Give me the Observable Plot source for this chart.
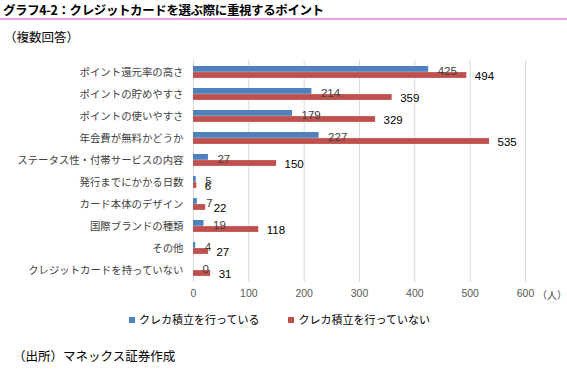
<!DOCTYPE html>
<html>
<head>
<meta charset="utf-8">
<script src="https://cdn.jsdelivr.net/npm/d3@7"></script>
<script src="https://cdn.jsdelivr.net/npm/@observablehq/plot@0.6"></script>
<style>
  html, body { margin: 0; padding: 0; background: #fff; }
  #wrap { position: relative; width: 567px; height: 383px; overflow: hidden; font-family: "Noto Sans CJK JP", "Noto Sans", sans-serif; color: #000; }
  #wrap .abs { position: absolute; white-space: nowrap; line-height: 1; }
  #chart { position: absolute; left: 0; top: 0; }
  .sw { display: inline-block; width: 6px; height: 6px; margin-right: 4px; vertical-align: middle; position: relative; top: -1px; }
</style>
</head>
<body>
<div id="wrap">
  <div class="abs" id="title" style="left:3px;top:4px;font-size:12.5px;font-weight:bold;letter-spacing:-0.4px;">グラフ4-2：クレジットカードを選ぶ際に重視するポイント</div>
  <div class="abs" style="left:0;top:18px;width:567px;height:2px;background:#ef9fe6;"></div>
  <div class="abs" style="left:4px;top:31px;font-size:12.5px;">（複数回答）</div>
  <div id="chart"></div>
  <div class="abs" style="left:537px;top:290px;font-size:10px;color:#404040;">（人）</div>
  <div class="abs" id="legend" style="left:129px;top:314px;font-size:11px;color:#000;"></div>
  <div class="abs" style="left:13px;top:350px;font-size:12.5px;">（出所）マネックス証券作成</div>
</div>
<script>
const categories = [
  "ポイント還元率の高さ",
  "ポイントの貯めやすさ",
  "ポイントの使いやすさ",
  "年会費が無料かどうか",
  "ステータス性・付帯サービスの内容",
  "発行までにかかる日数",
  "カード本体のデザイン",
  "国際ブランドの種類",
  "その他",
  "クレジットカードを持っていない"
];
const seriesNames = ["クレカ積立を行っている", "クレカ積立を行っていない"];
const withSaving = [425, 214, 179, 227, 27, 5, 7, 19, 4, 0];
const withoutSaving = [494, 359, 329, 535, 150, 6, 22, 118, 27, 31];
const xTicks = [0, 100, 200, 300, 400, 500, 600];
const colors = ["#4F81BD", "#C0504D"];

const blueRows = categories.map((c, i) => ({category: c, value: withSaving[i], series: seriesNames[0]}));
const redRows = categories.map((c, i) => ({category: c, value: withoutSaving[i], series: seriesNames[1]}));

const chart = Plot.plot({
  width: 567,
  height: 383,
  marginTop: 60,
  marginBottom: 101,
  marginLeft: 193,
  marginRight: 42,
  style: {fontFamily: "'Noto Sans CJK JP', 'Noto Sans', sans-serif", background: "transparent", overflow: "visible"},
  x: {domain: [0, 600], ticks: xTicks},
  y: {domain: categories, padding: 0},
  marks: [
    Plot.gridX(xTicks, {stroke: "#d9d9d9", strokeOpacity: 1}),
    Plot.axisX({ticks: xTicks, tickSize: 0, tickPadding: 7, fontSize: 10.5, fill: "#595959", label: null, fontFamily: "'Liberation Sans', sans-serif"}),
    Plot.axisY({tickSize: 0, tickPadding: 10, fontSize: 10.4, fill: "#404040", label: null}),
    Plot.barX(blueRows, {x: "value", y: "category", fill: colors[0], insetTop: 5, insetBottom: 11.2}),
    Plot.barX(redRows, {x: "value", y: "category", fill: colors[1], insetTop: 11.1, insetBottom: 5.1}),
    Plot.text(blueRows, {x: "value", y: "category", text: d => String(d.value), dx: 9, dy: -1, textAnchor: "start", fill: "#404040", fontSize: 11.5, fontFamily: "'Liberation Sans', sans-serif"}),
    Plot.text(redRows, {x: "value", y: "category", text: d => String(d.value), dx: 8, dy: 4, textAnchor: "start", fill: "#000", fontSize: 11.5, fontFamily: "'Liberation Sans', sans-serif"})
  ]
});
document.getElementById("chart").appendChild(chart);

const legend = document.getElementById("legend");
seriesNames.forEach((name, i) => {
  const item = document.createElement("span");
  item.style.display = "inline-block";
  item.style.marginRight = i === 0 ? "29px" : "0";
  item.innerHTML = `<span class="sw" style="background:${colors[i]}"></span>${name}`;
  legend.appendChild(item);
});
</script>
</body>
</html>
